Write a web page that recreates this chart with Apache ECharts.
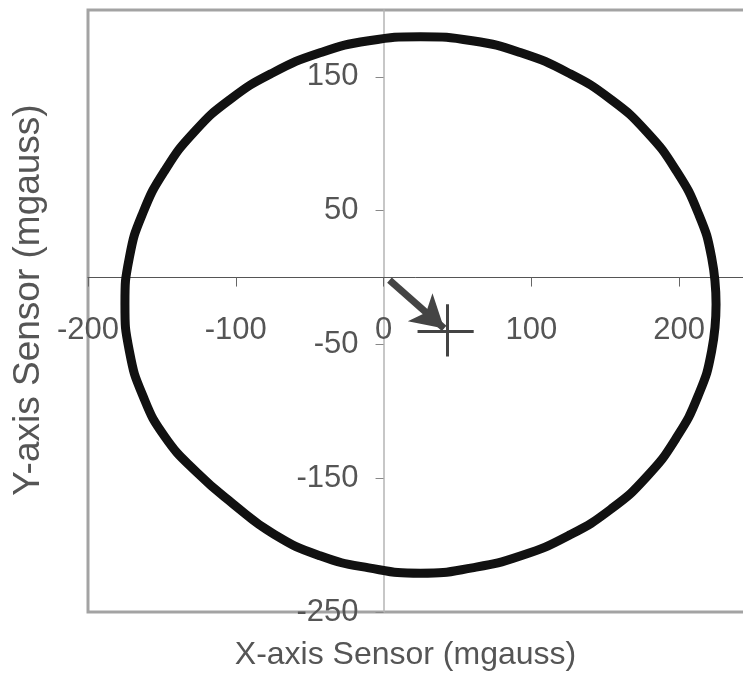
<!DOCTYPE html>
<html>
<head>
<meta charset="utf-8">
<script src="https://cdn.jsdelivr.net/npm/echarts@6/dist/echarts.min.js"></script>
<style>
  html, body { margin: 0; padding: 0; background: #fff; }
  #chart { width: 743px; height: 682px; }
</style>
</head>
<body>
<div id="chart"></div>
<script>
// sensor trace (x, y in mgauss)
const traceX = [225, 222, 213, 198, 178, 154, 125, 93, 60, 25, -10, -43, -75, -104, -128, -148, -163, -172,
  -175, -172, -163, -148, -126, -102, -74, -43, -10, 25, 60, 93, 125, 154, 178, 198, 213, 222, 225];
const traceY = [-20, 15, 48, 80, 109, 133, 153, 168, 177, 180, 177, 168, 153, 133, 109, 80, 48, 15,
  -20, -55, -88, -119, -146, -169, -192, -208, -217, -221, -217, -208, -193, -173, -149, -120, -88, -55, -20];

// arrow from origin to the offset point, and the "+" marker
const arrowFrom = [4, -2];
const arrowTo = [41, -38];
const plusH = [[23, -40], [61, -40]];
const plusV = [[43, -20], [43, -59]];

const xTicks = [-200, -100, 0, 100, 200];
const yTicks = [-250, -150, -50, 50, 150];
const xRange = [-200, 250];
const yRange = [-250, 200];

const trace = traceX.map((x, i) => [x, traceY[i]]);

const W = 743, H = 682;
const g = { left: 88, top: 10, right: -10, bottom: 70 };
// place the axes through the origin (offset from the grid edges)
const gw = W - g.left - g.right, gh = H - g.top - g.bottom;
const yAxisOffset = -(0 - xRange[0]) / (xRange[1] - xRange[0]) * gw;
const xAxisOffset = -(0 - yRange[0]) / (yRange[1] - yRange[0]) * gh;

const chart = echarts.init(document.getElementById('chart'));

const labelFont = {
  fontFamily: 'Liberation Sans, Arial, sans-serif',
  fontSize: 31,
  color: '#555'
};

chart.setOption({
  animation: false,
  grid: Object.assign({}, g, {
    containLabel: false,
    outerBoundsMode: 'none',
    show: true,
    borderColor: '#a3a3a3',
    borderWidth: 3
  }),
  xAxis: {
    type: 'value',
    min: xRange[0],
    max: xRange[1],
    interval: 100,
    position: 'bottom',
    offset: xAxisOffset,
    name: 'X-axis Sensor (mgauss)',
    nameLocation: 'middle',
    nameGap: 362,
    nameTextStyle: Object.assign({}, labelFont, { fontSize: 32, padding: [0, 30, 0, 0] }),
    axisLine: { onZero: false, lineStyle: { color: '#555', width: 1 } },
    axisTick: { length: 9, lineStyle: { color: '#666' }, customValues: xTicks },
    axisLabel: Object.assign({}, labelFont, { margin: 37, customValues: xTicks }),
    splitLine: { show: false }
  },
  yAxis: {
    type: 'value',
    min: yRange[0],
    max: yRange[1],
    position: 'left',
    offset: yAxisOffset,
    name: 'Y-axis Sensor (mgauss)',
    nameLocation: 'middle',
    nameGap: 336,
    nameTextStyle: Object.assign({}, labelFont, { fontSize: 37, padding: [0, 0, 0, 22] }),
    axisLine: { onZero: false, lineStyle: { color: '#b5b5b5', width: 1.5 } },
    axisTick: { length: 8, lineStyle: { color: '#888' }, customValues: yTicks },
    axisLabel: Object.assign({}, labelFont, { margin: 25, customValues: yTicks }),
    splitLine: { show: false }
  },
  series: [
    {
      type: 'line',
      data: trace,
      smooth: true,
      showSymbol: false,
      lineStyle: { color: '#111', width: 9 },
      z: 3
    },
    {
      type: 'line',
      data: [],
      z: 4,
      markLine: {
        silent: true,
        symbol: ['none', 'arrow'],
        symbolSize: [28, 32],
        label: { show: false },
        lineStyle: { color: '#444', width: 7, type: 'solid' },
        data: [[{ coord: arrowFrom }, { coord: arrowTo }]]
      }
    },
    {
      type: 'lines',
      coordinateSystem: 'cartesian2d',
      data: [{ coords: plusH }, { coords: plusV }],
      symbol: 'none',
      lineStyle: { color: '#444', width: 3, opacity: 1 },
      z: 4
    }
  ]
});
</script>
</body>
</html>
